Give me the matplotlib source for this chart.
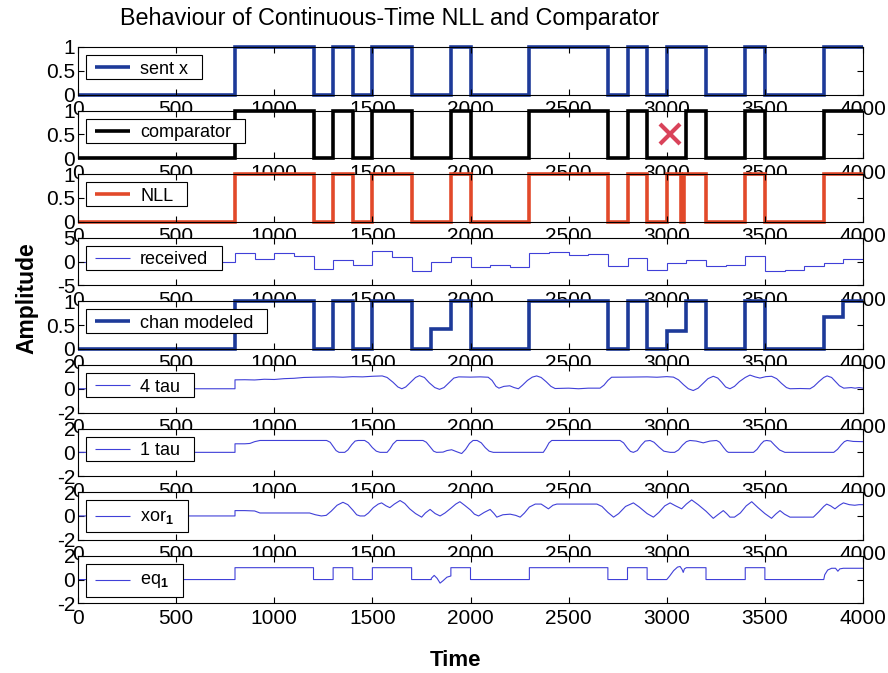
import matplotlib
matplotlib.use("Agg")
import matplotlib.pyplot as plt
from matplotlib.patches import Rectangle
import numpy as np

plt.rcParams['font.family'] = ['Liberation Sans', 'DejaVu Sans']
plt.rcParams['mathtext.fontset'] = 'custom'
plt.rcParams['mathtext.rm'] = 'Liberation Sans'
plt.rcParams['mathtext.bf'] = 'Liberation Sans:bold'

# ---- data -------------------------------------------------------------
bit_period = 100
sent_x = [0, 0, 0, 0, 0, 0, 0, 0, 1, 1, 1, 1, 0, 1, 0, 1, 1, 0, 0, 1,
          0, 0, 0, 1, 1, 1, 1, 0, 1, 0, 1, 1, 0, 0, 1, 0, 0, 0, 1, 1]
comparator = [0, 0, 0, 0, 0, 0, 0, 0, 1, 1, 1, 1, 0, 1, 0, 1, 1, 0, 0, 1,
              0, 0, 0, 1, 1, 1, 1, 0, 1, 0, 0, 1, 0, 0, 1, 0, 0, 0, 1, 1]
# NLL output: switching instants and the level held after each one
nll_t = [0, 800, 1200, 1300, 1400, 1500, 1700, 1900, 2000, 2300, 2700,
         2800, 2900, 3000, 3075, 3090, 3200, 3400, 3500, 3800, 4000]
nll_v = [0, 1, 0, 1, 0, 1, 0, 1, 0, 1, 0, 1, 0, 1, 0, 1, 0, 1, 0, 1]
received = [0, 0, 0, 0, 0, 0, 0, 0, 1.8, 0.6, 1.7, 1.1, -1.5, 0.4, -0.8, 2.3,
            1.0, -1.9, -0.1, 1.0, -1.1, -0.8, -1.2, 1.7, 2.1, 1.3, 1.6, -1.0,
            0.8, -1.8, -0.3, 0.3, -1.0, -0.7, 1.1, -2.0, -1.7, -1.0, -0.3, 0.5]
chan_modeled = [0, 0, 0, 0, 0, 0, 0, 0, 1, 1, 1, 1, 0, 1, 0, 1, 1, 0, 0.42, 1,
                0, 0, 0, 1, 1, 1, 1, 0, 1, 0, 0.38, 1, 0, 0, 1, 0, 0, 0, 0.67, 1]

tau4_t = [0, 800, 800, 850, 900, 950, 1000, 1050, 1100, 1150, 1200, 1300,
          1350, 1400, 1450, 1500, 1550, 1575, 1605, 1630, 1650, 1670, 1695,
          1720, 1740, 1765, 1790, 1818, 1842, 1865, 1890, 1915, 1940, 2000,
          2050, 2090, 2110, 2130, 2145, 2170, 2200, 2222, 2244, 2265, 2290,
          2315, 2337, 2360, 2385, 2410, 2431, 2500, 2550, 2600, 2660, 2680,
          2700, 2719, 2800, 2900, 2950, 3000, 3034, 3060, 3085, 3110, 3135,
          3160, 3185, 3210, 3237, 3260, 3280, 3300, 3322, 3345, 3370, 3400,
          3424, 3450, 3475, 3505, 3534, 3560, 3585, 3610, 3628, 3680, 3730,
          3750, 3775, 3800, 3817, 3840, 3860, 3880, 3902, 3940, 3960, 3980,
          4000]
tau4_v = [0, 0, 0.75, 0.76, 0.74, 0.8, 0.78, 0.85, 0.88, 0.95, 0.97, 1.0,
          0.97, 1.02, 1.0, 1.05, 1.08, 0.95, 0.55, 0.15, 0.0, 0.15, 0.55,
          0.95, 1.1, 0.95, 0.5, 0.1, -0.05, 0.1, 0.5, 0.9, 1.0, 0.98,
          1.0, 0.97, 0.7, 0.2, 0.05, 0.2, 0.25, 0.1, 0.0, 0.3, 0.7,
          0.98, 1.08, 0.95, 0.6, 0.2, 0.02, 0.05, 0.0, 0.05, 0.05, 0.3,
          0.7, 0.97, 0.98, 1.0, 0.97, 1.02, 0.98, 0.75, 0.35, 0.0, -0.15,
          0.05, 0.45, 0.85, 1.05, 0.9, 0.55, 0.15, 0.0, 0.2, 0.6, 0.95,
          1.15, 1.0, 0.9, 1.02, 1.05, 0.85, 0.45, 0.1, 0.0, 0.02, 0.0,
          0.2, 0.6, 0.95, 1.08, 0.95, 0.6, 0.25, 0.05, 0.1, 0.05, 0.1,
          0.05]

tau1_t = [0, 800, 800, 850, 876, 900, 927, 1000, 1267, 1285, 1300, 1315,
          1330, 1359, 1375, 1395, 1412, 1427, 1461, 1480, 1500, 1520, 1539,
          1575, 1590, 1605, 1624, 1758, 1775, 1795, 1812, 1827, 1860, 1880,
          1904, 1930, 1955, 1975, 1995, 2013, 2034, 2055, 2075, 2095, 2116,
          2371, 2385, 2400, 2414, 2762, 2780, 2800, 2815, 2830, 2850, 2870,
          2890, 2915, 2935, 2960, 2985, 3017, 3040, 3060, 3080, 3100, 3118,
          3150, 3186, 3220, 3254, 3270, 3290, 3305, 3314, 3442, 3460, 3480,
          3495, 3509, 3530, 3550, 3575, 3602, 3851, 3870, 3890, 3905, 3919,
          3950, 4000]
tau1_v = [0, 0, 0.72, 0.72, 0.75, 0.9, 1.0, 1.0, 1.0, 0.85, 0.5, 0.15,
          0.0, 0.0, 0.2, 0.65, 0.95, 1.0, 1.0, 0.8, 0.4, 0.1, 0.0,
          0.0, 0.3, 0.7, 1.0, 1.0, 0.85, 0.45, 0.1, 0.0, 0.02, 0.15,
          0.22, 0.05, -0.1, 0.25, 0.75, 1.0, 1.0, 0.8, 0.4, 0.1, 0.0,
          0.0, 0.35, 0.8, 1.0, 1.0, 0.8, 0.35, 0.08, 0.0, 0.15, 0.6,
          0.95, 1.0, 0.85, 0.45, 0.1, 0.0, 0.0, 0.2, 0.6, 0.9, 1.0,
          0.95, 0.8, 0.95, 1.0, 0.85, 0.4, 0.1, 0.0, 0.0, 0.25, 0.7,
          0.95, 1.0, 0.95, 0.6, 0.2, 0.0, 0.0, 0.25, 0.65, 0.9, 1.0,
          0.92, 0.9]

xor_t = [0, 800, 800, 850, 900, 927, 1000, 1100, 1180, 1210, 1240, 1265,
         1290, 1320, 1350, 1375, 1400, 1420, 1437, 1460, 1480, 1505, 1530,
         1547, 1570, 1589, 1612, 1641, 1665, 1690, 1720, 1751, 1770, 1794,
         1820, 1845, 1870, 1900, 1925, 1946, 1970, 2000, 2020, 2041, 2070,
         2100, 2120, 2134, 2165, 2202, 2230, 2253, 2275, 2300, 2330, 2360,
         2397, 2420, 2440, 2550, 2644, 2670, 2700, 2729, 2755, 2790, 2830,
         2860, 2900, 2932, 2960, 2990, 3017, 3045, 3076, 3100, 3127, 3160,
         3200, 3237, 3260, 3288, 3305, 3322, 3345, 3375, 3405, 3433, 3465,
         3500, 3534, 3555, 3577, 3600, 3628, 3700, 3747, 3775, 3800, 3815,
         3835, 3857, 3880, 3900, 3930, 3958, 3980, 4000]
xor_v = [0, 0, 0.45, 0.45, 0.42, 0.25, 0.25, 0.25, 0.25, 0.1, 0.0, 0.05,
         0.4, 0.9, 1.15, 0.95, 0.5, 0.1, 0.0, 0.0, 0.25, 0.7, 1.0,
         1.1, 0.85, 0.7, 1.0, 1.3, 1.05, 0.6, 0.2, -0.1, 0.25, 0.55,
         0.2, 0.0, 0.25, 0.65, 1.0, 1.2, 0.9, 0.5, 0.15, 0.0, 0.3,
         0.55, 0.2, -0.1, 0.1, 0.15, 0.05, -0.1, 0.25, 0.75, 1.0, 1.0,
         0.6, 0.9, 1.0, 1.0, 1.0, 0.8, 0.3, -0.1, 0.2, 0.8, 1.1,
         0.75, 0.2, -0.1, 0.3, 0.85, 1.1, 0.85, 0.6, 1.0, 1.35, 0.95,
         0.4, -0.2, 0.1, 0.45, 0.2, -0.1, -0.1, 0.25, 0.85, 1.2, 0.7,
         0.2, -0.2, 0.15, 0.45, 0.15, -0.1, -0.1, -0.1, 0.35, 0.8, 1.0,
         0.85, 0.6, 0.9, 1.1, 0.95, 0.9, 0.95, 0.95]

eq_t = [0, 800, 800, 1200, 1200, 1300, 1300, 1400, 1400, 1500, 1500, 1700,
        1700, 1800, 1800, 1815, 1830, 1845, 1860, 1880, 1900, 1900, 2000,
        2000, 2300, 2300, 2700, 2700, 2800, 2800, 2900, 2900, 3000, 3015,
        3035, 3055, 3068, 3078, 3084, 3090, 3100, 3200, 3200, 3400, 3400,
        3500, 3500, 3800, 3805, 3820, 3840, 3860, 3872, 3882, 3900, 4000]
eq_v = [0, 0, 1.0, 1.0, 0, 0, 1.0, 1.0, 0, 0, 1.0, 1.0,
        0, 0, 0.1, 0.35, 0.1, -0.3, -0.1, 0.2, 0.3, 1.0, 1.0,
        0, 0, 1.0, 1.0, 0, 0, 1.0, 1.0, 0, 0, 0.3,
        0.75, 1.05, 1.1, 0.85, 0.6, 0.9, 1.0, 1.0, 0, 0, 1.0,
        1.0, 0, 0, 0.4, 0.8, 0.95, 0.95, 0.7, 0.9, 0.95, 0.95]

x_ticks = [0, 500, 1000, 1500, 2000, 2500, 3000, 3500, 4000]

# ---- styles -----------------------------------------------------------
dark_blue = '#1d3a99'
thin_blue = '#4040d8'
nll_red = '#e2492a'
tick_fs = 15
legend_fs = 13

fig = plt.figure(figsize=(8.88, 6.73), dpi=100)
W, H = 888, 673
left_px, width_px = 78, 785
top0_px, pitch_px, height_px = 47, 63.6, 47.5

edges = np.arange(len(sent_x) + 1) * bit_period
renderer = fig.canvas.get_renderer()


def make_axes(i):
    top = top0_px + i * pitch_px
    ax = fig.add_axes([left_px / W, 1 - (top + height_px) / H,
                       width_px / W, height_px / H])
    ax.set_xlim(0, 4000)
    ax.set_xticks(x_ticks)
    ax.set_xticklabels([str(t) for t in x_ticks])
    ax.tick_params(direction='in', top=True, right=True, length=4,
                   labelsize=tick_fs, width=0.8)
    ax.tick_params(axis='x', pad=4)
    ax.tick_params(axis='y', pad=2)
    for s in ax.spines.values():
        s.set_linewidth(0.8)
    return ax


def add_legend(ax, color, lw, label, box_h=24, text_dy=0):
    """Boxed legend in the upper-left corner, laid out in pixels."""
    def px(x, y_from_top):
        return x / width_px, 1 - y_from_top / height_px

    top, left = 8, 8
    yc = top + box_h / 2
    tx, ty = px(62, yc + text_dy)
    txt = ax.text(tx, ty, label, transform=ax.transAxes, ha='left',
                  va='center_baseline', fontsize=legend_fs, zorder=6)
    tw = txt.get_window_extent(renderer).width
    bx, by = px(left, top + box_h)
    ax.add_patch(Rectangle((bx, by), (62 - left + tw + 14) / width_px,
                           box_h / height_px, transform=ax.transAxes,
                           facecolor='white', edgecolor='k', linewidth=0.8,
                           zorder=5, clip_on=False))
    lx0, ly = px(17, yc)
    lx1, _ = px(52, yc)
    ax.plot([lx0, lx1], [ly, ly], transform=ax.transAxes, color=color,
            linewidth=lw, zorder=6, solid_capstyle='butt')


def binary_axes(ax):
    ax.set_ylim(0, 1)
    ax.set_yticks([0, 0.5, 1])
    ax.set_yticklabels(['0', '0.5', '1'])


# sent bits
ax = make_axes(0)
ax.stairs(sent_x, edges, color=dark_blue, linewidth=2.6, baseline=None,
          clip_on=False)
binary_axes(ax)
add_legend(ax, dark_blue, 2.6, 'sent x')

# comparator decisions, with the bit error marked
ax = make_axes(1)
ax.stairs(comparator, edges, color='k', linewidth=2.6, baseline=None,
          clip_on=False)
binary_axes(ax)
add_legend(ax, 'k', 2.6, 'comparator')
ax.plot([3016], [0.5], marker='x', color='#d9435a', markersize=14,
        markeredgewidth=3, zorder=7)

# NLL decisions
ax = make_axes(2)
ax.stairs(nll_v, nll_t, color=nll_red, linewidth=2.6, baseline=None,
          clip_on=False)
binary_axes(ax)
add_legend(ax, nll_red, 2.6, 'NLL')

# received
ax = make_axes(3)
ax.stairs(received, edges, color=thin_blue, linewidth=0.8, baseline=None)
ax.set_ylim(-5, 5)
ax.set_yticks([-5, 0, 5])
ax.set_yticklabels(['-5', '0', '5'])
add_legend(ax, thin_blue, 0.8, 'received')

# channel model
ax = make_axes(4)
ax.stairs(chan_modeled, edges, color=dark_blue, linewidth=2.6, baseline=None,
          clip_on=False)
binary_axes(ax)
add_legend(ax, dark_blue, 2.6, 'chan modeled')

curve_panels = [
    (tau4_t, tau4_v, '4 tau', 24, 0),
    (tau1_t, tau1_v, '1 tau', 24, 0),
    (xor_t, xor_v, r'xor$_\mathbf{1}$', 32, -2),
    (eq_t, eq_v, r'eq$_\mathbf{1}$', 33, -2),
]
for k, (tt, vv, lab, bh, dy) in enumerate(curve_panels):
    ax = make_axes(5 + k)
    ax.plot(tt, vv, color=thin_blue, linewidth=0.8)
    ax.set_ylim(-2, 2)
    ax.set_yticks([-2, 0, 2])
    ax.set_yticklabels(['-2', '0', '2'])
    add_legend(ax, thin_blue, 0.8, lab, box_h=bh, text_dy=dy)

fig.text(120 / W, 1 - 19 / H, 'Behaviour of Continuous-Time NLL and Comparator',
         ha='left', va='center', fontsize=16.8)
fig.text(27 / W, 1 - 298 / H, 'Amplitude', rotation=90, ha='center',
         va='center', fontsize=16.5, fontweight='bold')
fig.text(455 / W, 1 - 660 / H, 'Time', ha='center', va='center',
         fontsize=16, fontweight='bold')

fig.savefig('out.png', dpi=100)
